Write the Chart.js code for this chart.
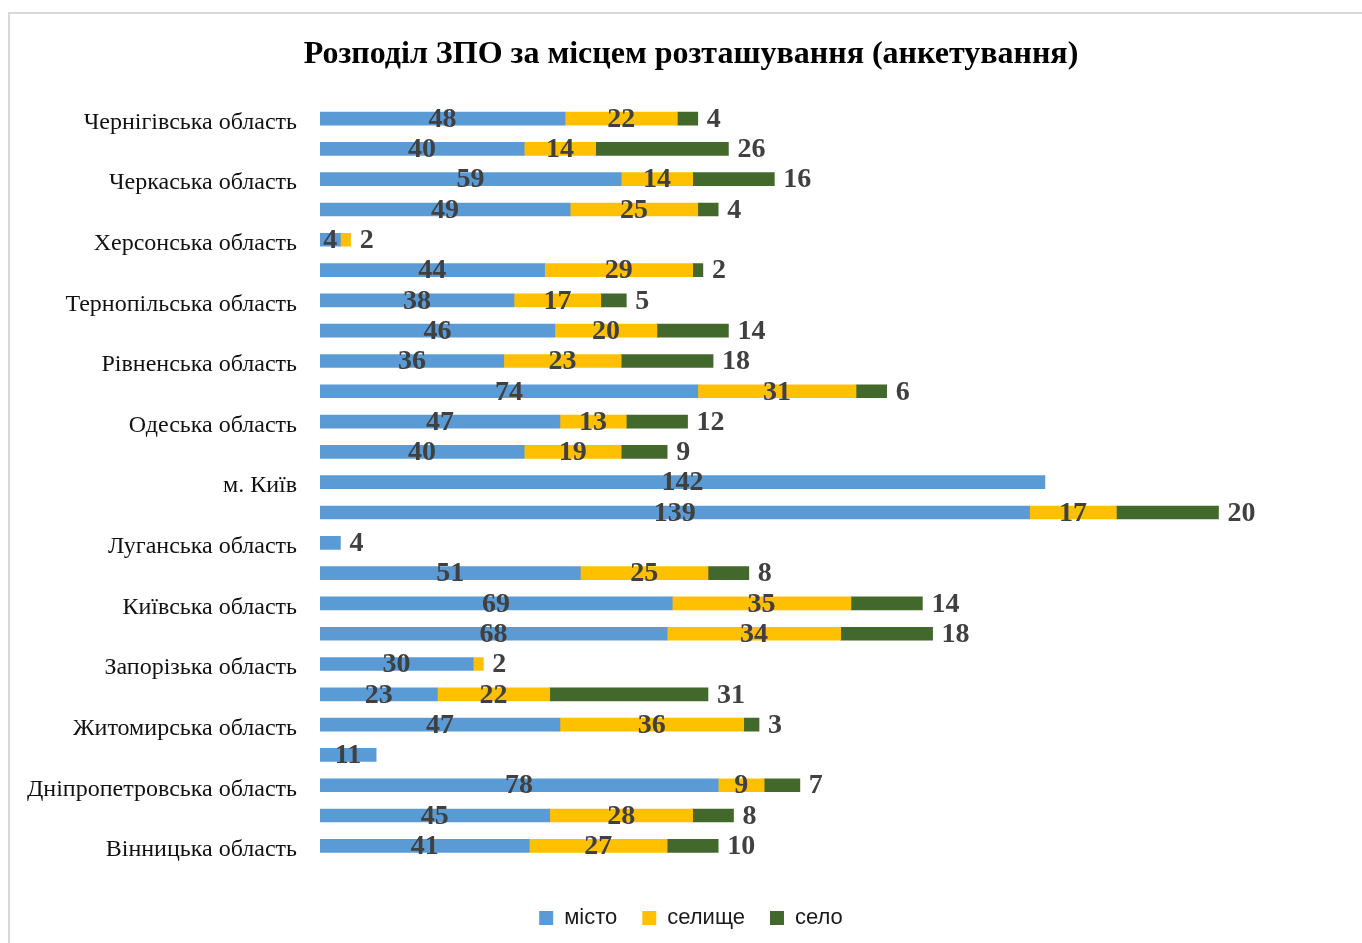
<!DOCTYPE html>
<html>
<head>
<meta charset="utf-8">
<script src="https://cdn.jsdelivr.net/npm/chart.js@4"></script>
<style>
  html, body { margin: 0; padding: 0; background: #fff; overflow: hidden; }
  #wrap { position: relative; width: 1362px; height: 943px; }
  #frame { position: absolute; left: 8px; top: 12px; width: 1400px; height: 1000px; border: 2px solid #d9d9d9; }
  #chart { position: absolute; left: 0; top: 0; }
</style>
</head>
<body>
<div id="wrap">
  <div id="frame"></div>
  <canvas id="chart" width="1362" height="943"></canvas>
</div>
<script>
// rows listed top to bottom, only every other row carries a region name
const regions = [
  'Чернігівська область', '',
  'Черкаська область', '',
  'Херсонська область', '',
  'Тернопільська область', '',
  'Рівненська область', '',
  'Одеська область', '',
  'м. Київ', '',
  'Луганська область', '',
  'Київська область', '',
  'Запорізька область', '',
  'Житомирська область', '',
  'Дніпропетровська область', '',
  'Вінницька область',
];

const misto = [48, 40, 59, 49, 4, 44, 38, 46, 36, 74, 47, 40, 142, 139, 4, 51, 69, 68, 30, 23, 47, 11, 78, 45, 41];
const selyshche = [22, 14, 14, 25, 2, 29, 17, 20, 23, 31, 13, 19, null, 17, null, 25, 35, 34, 2, 22, 36, null, 9, 28, 27];
const selo = [4, 26, 16, 4, null, 2, 5, 14, 18, 6, 12, 9, null, 20, null, 8, 14, 18, null, 31, 3, null, 7, 8, 10];

const serif = '"Liberation Serif", "Times New Roman", serif';

// value labels: centred in segment, last segment labels sit right of the bar
const valueLabels = {
  id: 'valueLabels',
  afterDatasetsDraw(chart) {
    const ctx = chart.ctx;
    const sets = chart.data.datasets;
    ctx.save();
    ctx.font = 'bold 28px ' + serif;
    ctx.fillStyle = '#404040';
    ctx.textBaseline = 'middle';
    sets.forEach((ds, di) => {
      const meta = chart.getDatasetMeta(di);
      meta.data.forEach((bar, i) => {
        const v = ds.data[i];
        if (v == null) return;
        const isLast = sets.slice(di + 1).every(d => d.data[i] == null);
        const w = Math.abs(bar.x - bar.base);
        const y = bar.y + 1;
        if (isLast && (di === 2 || w < 25)) {
          ctx.textAlign = 'left';
          ctx.fillText(String(v), bar.x + 9, y);
        } else {
          ctx.textAlign = 'center';
          ctx.fillText(String(v), (bar.x + bar.base) / 2, y);
        }
      });
    });
    ctx.restore();
  }
};

// title and legend sit a bit right of the canvas centre in the original
const shiftBlocks = {
  id: 'shiftBlocks',
  afterLayout(chart) {
    [chart.titleBlock, chart.legend].forEach(b => {
      if (!b) return;
      b.left += 10.5;
      b.right += 10.5;
    });
  }
};

const ctx = document.getElementById('chart').getContext('2d');
new Chart(ctx, {
  type: 'bar',
  data: {
    labels: regions,
    datasets: [
      { label: 'місто', data: misto, backgroundColor: '#5b9bd5' },
      { label: 'селище', data: selyshche, backgroundColor: '#ffc000' },
      { label: 'село', data: selo, backgroundColor: '#43682b' },
    ],
  },
  options: {
    indexAxis: 'y',
    responsive: false,
    animation: false,
    barThickness: 13,
    layout: { padding: { left: 20, right: 21, top: 0, bottom: 4 } },
    plugins: {
      title: {
        display: true,
        text: 'Розподіл ЗПО за місцем розташування (анкетування)',
        color: '#000',
        font: { family: serif, size: 32, weight: 'bold' },
        padding: { top: 36, bottom: 29 },
      },
      legend: {
        position: 'bottom',
        labels: {
          color: '#1a1a1a',
          font: { family: '"Liberation Sans", Arial, sans-serif', size: 22 },
          boxWidth: 14,
          boxHeight: 14,
          padding: 25,
        },
      },
      tooltip: { enabled: false },
    },
    scales: {
      x: {
        stacked: true,
        min: 0,
        max: 200,
        grid: { display: false, drawTicks: false },
        border: { display: false },
        ticks: { display: false },
        afterFit(scale) { scale.height = 21; },
      },
      y: {
        stacked: true,
        grid: { display: false, drawTicks: false },
        border: { display: false },
        ticks: {
          autoSkip: false,
          color: '#111',
          padding: 23,
          labelOffset: 4,
          font: { family: serif, size: 24 },
        },
        afterFit(scale) { scale.width = 300; },
      },
    },
  },
  plugins: [valueLabels, shiftBlocks],
});
</script>
</body>
</html>
